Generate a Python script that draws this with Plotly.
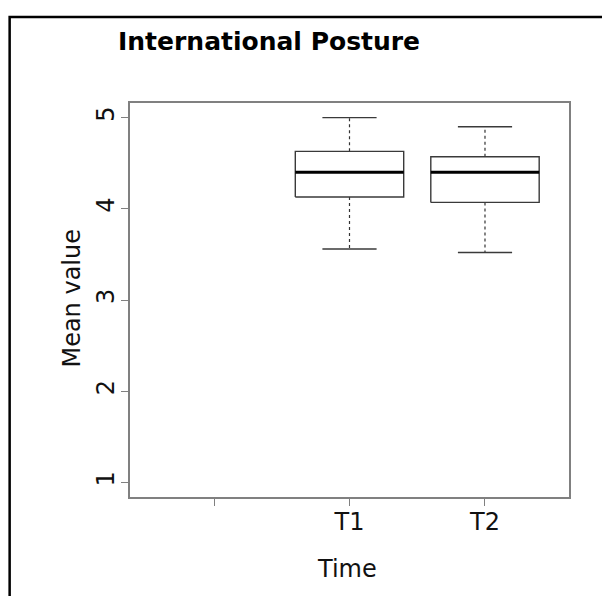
import plotly.graph_objects as go

# Data
categories = ["", "T1", "T2"]
positions = [1, 2, 3]
lower_whisker = [None, 3.56, 3.52]
q1 = [None, 4.13, 4.07]
median = [None, 4.40, 4.40]
q3 = [None, 4.63, 4.57]
upper_whisker = [None, 5.00, 4.90]

BOX_HALF = 0.4
CAP_HALF = 0.2

box_x, box_y = [], []
med_x, med_y = [], []
wh_x, wh_y = [], []
cap_x, cap_y = [], []
for p, lo, a, m, b, hi in zip(positions, lower_whisker, q1, median, q3, upper_whisker):
    if m is None:
        continue
    box_x += [p - BOX_HALF, p + BOX_HALF, p + BOX_HALF, p - BOX_HALF, p - BOX_HALF, None]
    box_y += [a, a, b, b, a, None]
    med_x += [p - BOX_HALF, p + BOX_HALF, None]
    med_y += [m, m, None]
    wh_x += [p, p, None, p, p, None]
    wh_y += [b, hi, None, a, lo, None]
    cap_x += [p - CAP_HALF, p + CAP_HALF, None, p - CAP_HALF, p + CAP_HALF, None]
    cap_y += [hi, hi, None, lo, lo, None]

fig = go.Figure()
fig.add_trace(go.Scatter(x=wh_x, y=wh_y, mode="lines",
                         line=dict(color="#333333", width=1.2, dash="3px,3px"),
                         hoverinfo="skip", showlegend=False))
fig.add_trace(go.Scatter(x=cap_x, y=cap_y, mode="lines",
                         line=dict(color="#3a3a3a", width=1.4),
                         hoverinfo="skip", showlegend=False))
fig.add_trace(go.Scatter(x=box_x, y=box_y, mode="lines",
                         line=dict(color="#3a3a3a", width=1.4),
                         hoverinfo="skip", showlegend=False))
fig.add_trace(go.Scatter(x=med_x, y=med_y, mode="lines",
                         line=dict(color="#000000", width=3),
                         hoverinfo="skip", showlegend=False))

W, H = 602, 596
L, R, T, B = 129.5, 33, 103, 99
pw, ph = W - L - R, H - T - B

def px2paper_x(px):
    return (px - L) / pw

def px2paper_y(py):
    return (H - B - py) / ph

font = "DejaVu Sans, Verdana, sans-serif"

fig.update_layout(
    width=W, height=H,
    margin=dict(l=L, r=R, t=T, b=B, pad=0),
    paper_bgcolor="white", plot_bgcolor="white",
    font=dict(family=font, size=23, color="#111111"),
    xaxis=dict(range=[0.38, 3.62], tickvals=positions, ticktext=categories,
               showgrid=False, zeroline=False, showline=True, mirror=True,
               linecolor="#808080", linewidth=1.5,
               ticks="outside", ticklen=7, tickcolor="#808080", tickwidth=1.2,
               ticklabelstandoff=-5,
               tickfont=dict(size=24, family=font, color="#111111")),
    yaxis=dict(range=[0.84, 5.16], tickvals=[1, 2, 3, 4, 5],
               showgrid=False, zeroline=False, showline=True, mirror=True,
               linecolor="#808080", linewidth=1.5,
               ticks="outside", ticklen=7, tickcolor="#808080", tickwidth=1.2,
               tickangle=-90, ticklabelstandoff=-2,
               tickfont=dict(size=24, family=font, color="#111111")),
    shapes=[dict(type="rect", xref="paper", yref="paper",
                 x0=px2paper_x(9), x1=px2paper_x(640),
                 y0=px2paper_y(640), y1=px2paper_y(17),
                 line=dict(color="black", width=2.5), fillcolor="rgba(0,0,0,0)",
                 layer="above")],
    annotations=[
        dict(text="<b>International Posture</b>", xref="paper", yref="paper",
             x=px2paper_x(269), y=px2paper_y(41), xanchor="center", yanchor="middle",
             showarrow=False, font=dict(size=25, family=font, color="black")),
        dict(text="Time", xref="paper", yref="paper",
             x=px2paper_x(347), y=px2paper_y(569), xanchor="center", yanchor="middle",
             showarrow=False, font=dict(size=24, family=font, color="#111111")),
        dict(text="Mean value", xref="paper", yref="paper",
             x=px2paper_x(71), y=px2paper_y(298), xanchor="center", yanchor="middle",
             textangle=-90, showarrow=False,
             font=dict(size=24, family=font, color="#111111")),
    ],
)

fig.write_html("out.html")
